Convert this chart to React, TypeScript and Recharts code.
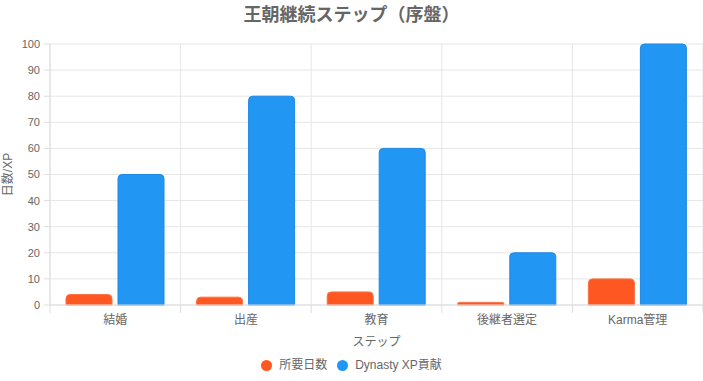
import React from 'react';
import { BarChart, Bar, XAxis, YAxis, CartesianGrid, Legend } from 'recharts';

const categories = ['結婚', '出産', '教育', '後継者選定', 'Karma管理'];
const daysValues = [4, 3, 5, 1, 10];
const xpValues = [50, 80, 60, 20, 100];
const yTicks = [0, 10, 20, 30, 40, 50, 60, 70, 80, 90, 100];
const boundaryTicks = [0, 1, 2, 3, 4, 5];

const seriesNames = { days: '所要日数', xp: 'Dynasty XP貢献' };
const colors = { days: '#FF5722', xp: '#2196F3' };
const legendItems = [
  { name: seriesNames.days, color: colors.days },
  { name: seriesNames.xp, color: colors.xp },
];

const data = categories.map((c, i) => ({ name: c, days: daysValues[i], xp: xpValues[i] }));

const FONT = '"Liberation Sans", Arial, "Noto Sans CJK JP", sans-serif';
const CHART_W = 703;
const Y_AXIS_W = 50;
const HALF_BAND = (CHART_W - Y_AXIS_W) / categories.length / 2;

const renderLegend = () => (
  <div style={{ display: 'flex', justifyContent: 'center', alignItems: 'center', fontFamily: FONT, fontSize: 12, color: '#666', lineHeight: '16px' }}>
    {legendItems.map((p) => (
      <div key={p.name} style={{ display: 'flex', alignItems: 'center', margin: '0 5px' }}>
        <span style={{ width: 11, height: 11, borderRadius: '50%', background: p.color, display: 'inline-block', marginRight: 7 }} />
        <span>{p.name}</span>
      </div>
    ))}
  </div>
);

const boundaryGrid = (props: any) => {
  const off = props.offset;
  const n = categories.length;
  return boundaryTicks.map((i) => off.left + (off.width * i) / n);
};

const CategoryTick = (props: any) => {
  const { x, y, payload, index } = props;
  return (
    <g>
      <line x1={x - HALF_BAND} x2={x - HALF_BAND} y1={y - 10} y2={y - 2} stroke="#dddddd" />
      {index === categories.length - 1 && (
        <line x1={x + HALF_BAND} x2={x + HALF_BAND} y1={y - 10} y2={y - 2} stroke="#dddddd" />
      )}
      <text x={x} y={y} dy="0.71em" textAnchor="middle" fill="#666" fontSize={12}>
        {payload.value}
      </text>
    </g>
  );
};

export default function App() {
  return (
    <div style={{ position: 'absolute', left: 0, top: 0, width: 703, height: 381, background: '#fff' }}>
      <div style={{ position: 'absolute', left: 0, top: 4, width: 703, textAlign: 'center', fontFamily: FONT, fontWeight: 'bold', fontSize: 18, color: '#666', lineHeight: '22px' }}>
        王朝継続ステップ（序盤）
      </div>
      <BarChart
        width={CHART_W}
        height={381}
        data={data}
        margin={{ top: 44, right: 0, left: 0, bottom: 20 }}
        barGap={6}
        barSize={46}
        style={{ fontFamily: FONT }}
      >
        <CartesianGrid stroke="#e6e6e6" verticalCoordinatesGenerator={boundaryGrid} />
        <XAxis
          dataKey="name"
          height={40}
          interval={0}
          tickLine={false}
          tickSize={0}
          tickMargin={10}
          axisLine={{ stroke: '#dddddd' }}
          tick={<CategoryTick />}
          label={{ value: 'ステップ', position: 'insideBottom', offset: -1, fill: '#666', fontSize: 12 }}
        />
        <YAxis
          width={Y_AXIS_W}
          domain={[0, 100]}
          ticks={yTicks}
          tickSize={6}
          tickMargin={4}
          axisLine={{ stroke: '#dddddd' }}
          tickLine={{ stroke: '#dddddd' }}
          tick={{ fill: '#666', fontSize: 11 }}
          label={{ value: '日数/XP', angle: -90, position: 'insideLeft', offset: 8, fill: '#666', fontSize: 12, style: { textAnchor: 'middle' } }}
        />
        <Legend verticalAlign="bottom" content={renderLegend} wrapperStyle={{ bottom: 8 }} />
        <Bar dataKey="days" name={seriesNames.days} fill={colors.days} stroke="#FF7043" strokeWidth={1} radius={[4, 4, 0, 0]} isAnimationActive={false} />
        <Bar dataKey="xp" name={seriesNames.xp} fill={colors.xp} stroke="#1E88E5" strokeWidth={1} radius={[4, 4, 0, 0]} isAnimationActive={false} />
      </BarChart>
    </div>
  );
}
